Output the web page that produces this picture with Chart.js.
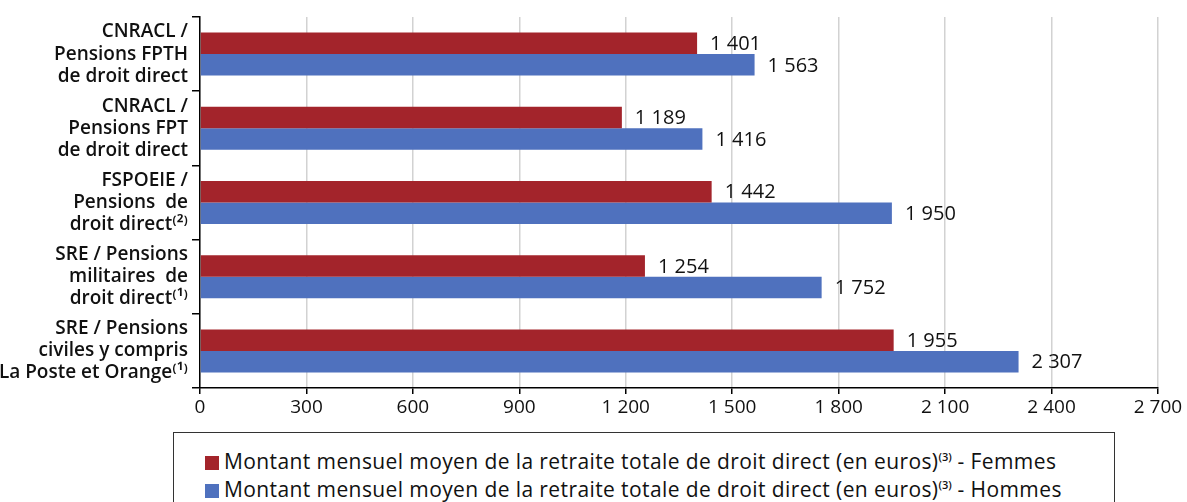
<!DOCTYPE html>
<html>
<head>
<meta charset="utf-8">
<script src="https://cdn.jsdelivr.net/npm/chart.js"></script>
<style>
  body{margin:0;background:#fff;width:1187px;height:502px;overflow:hidden;position:relative;font-family:"Open Sans",sans-serif;}
  #wrap{position:absolute;left:0;top:0;width:1187px;height:432px;}
  #legend{position:absolute;left:173px;top:432px;width:942px;height:90px;border:1.5px solid #333;box-sizing:border-box;}
  .item{position:absolute;left:31px;font-size:21px;letter-spacing:0.4px;color:#111;white-space:nowrap;line-height:24px;}
  .item span.box{display:inline-block;width:14px;height:14px;margin-right:5px;vertical-align:-1px;}
  .item sup{font-size:11px;font-weight:600;letter-spacing:0;}
</style>
</head>
<body>
<div id="wrap"><canvas id="chart"></canvas></div>
<div id="legend"></div>
<script>
// data
var categories=[
  ["CNRACL /","Pensions FPTH","de droit direct"],
  ["CNRACL /","Pensions FPT","de droit direct"],
  ["FSPOEIE /","Pensions  de","droit direct\u207D\u00B2\u207E"],
  ["SRE / Pensions","militaires  de","droit direct\u207D\u00B9\u207E"],
  ["SRE / Pensions","civiles y compris","La Poste et Orange\u207D\u00B9\u207E"]
];
var femmes=[1401,1189,1442,1254,1955];
var hommes=[1563,1416,1950,1752,2307];
var seriesNames=["Montant mensuel moyen de la retraite totale de droit direct (en euros)","Montant mensuel moyen de la retraite totale de droit direct (en euros)"];
var seriesSuffix=[" - Femmes"," - Hommes"];
var xMax=2700;
var xStep=300;

var RED="#A3242B";
var BLUE="#4F71BE";

function fmt(v){
  var s=String(Math.round(v));
  return s.replace(/\B(?=(\d{3})+(?!\d))/g," ");
}

// value labels right of each bar
var valueLabels={
  id:"valueLabels",
  afterDatasetsDraw:function(chart){
    var ctx=chart.ctx;
    ctx.save();
    ctx.font="500 20px 'Open Sans', sans-serif";
    ctx.fillStyle="#111";
    ctx.textBaseline="middle";
    ctx.textAlign="left";
    chart.data.datasets.forEach(function(ds,i){
      chart.getDatasetMeta(i).data.forEach(function(bar,j){
        ctx.fillText(fmt(ds.data[j]),bar.x+13,bar.y+1);
      });
    });
    ctx.restore();
  }
};

var chart=new Chart(document.getElementById("chart"),{
  type:"bar",
  data:{
    labels:categories,
    datasets:[
      {label:seriesNames[0]+seriesSuffix[0],data:femmes,backgroundColor:RED},
      {label:seriesNames[1]+seriesSuffix[1],data:hommes,backgroundColor:BLUE}
    ]
  },
  options:{
    indexAxis:"y",
    responsive:true,
    maintainAspectRatio:false,
    animation:false,
    layout:{padding:{top:17,right:29,left:0,bottom:0}},
    categoryPercentage:0.58,
    barPercentage:1,
    plugins:{legend:{display:false},tooltip:{enabled:false}},
    scales:{
      x:{
        min:0,max:xMax,
        ticks:{stepSize:xStep,color:"#111",font:{family:"Open Sans",size:19},padding:2,callback:function(v){return fmt(v);}},
        grid:{color:"#d2d2d2",lineWidth:1.5,tickColor:"#000",tickLength:6},
        border:{color:"#000",width:1.5},
        afterFit:function(s){s.height=44;s.paddingLeft=0;s.paddingRight=0;}
      },
      y:{
        ticks:{color:"#111",font:{family:"Open Sans",size:19,weight:"600",lineHeight:1.16},padding:4},
        grid:{offset:true,drawOnChartArea:false,color:"#000",lineWidth:1.5,tickLength:8},
        border:{color:"#000",width:1.5},
        afterFit:function(s){s.width=200;s.paddingTop=0;s.paddingBottom=0;}
      }
    }
  },
  plugins:[valueLabels]
});

// legend below the chart
var leg=document.getElementById("legend");
[RED,BLUE].forEach(function(c,i){
  var d=document.createElement("div");
  d.className="item";
  d.style.top=(12+i*28)+"px";
  d.innerHTML='<span class="box" style="background:'+c+'"></span>'+seriesNames[i]+'<sup>(3)</sup>'+seriesSuffix[i];
  leg.appendChild(d);
});
</script>
</body>
</html>
